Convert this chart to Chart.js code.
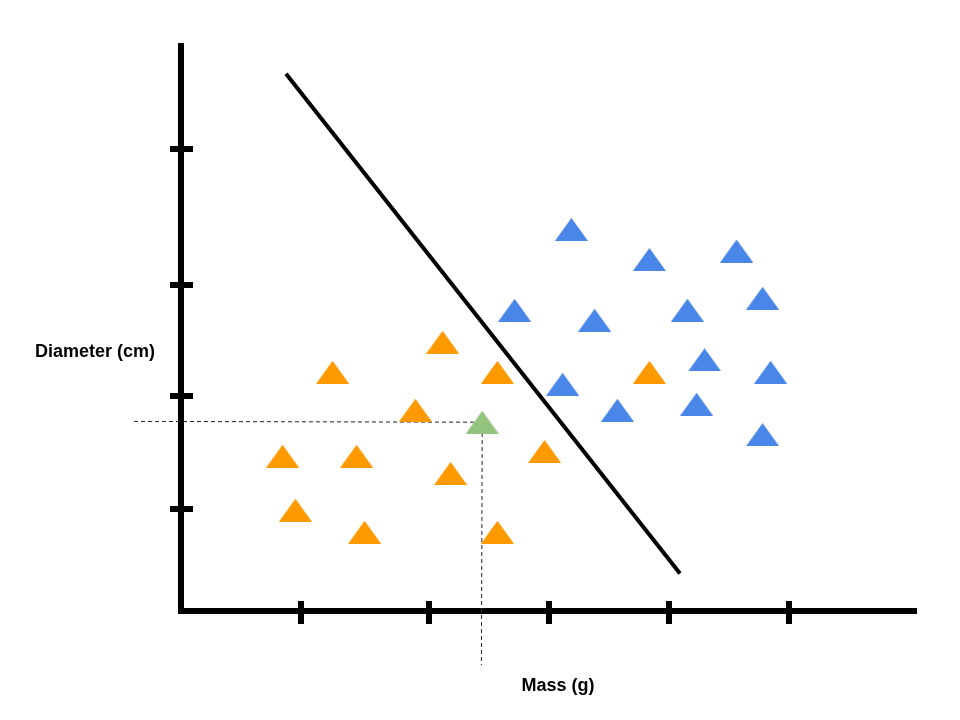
<!DOCTYPE html>
<html>
<head>
<meta charset="utf-8">
<title>Mass vs Diameter</title>
<script src="https://cdn.jsdelivr.net/npm/chart.js@4.4.1/dist/chart.umd.min.js"></script>
<style>
  html, body { margin: 0; padding: 0; background: #fff; }
  #chart { display: block; }
</style>
</head>
<body>
<canvas id="chart" width="960" height="720"></canvas>
<script>
// values: mass in g, diameter in cm
const orangeMass     = [65.4, 37.9, 79.1, 117.1, 58.6, 25.4, 43.9, 67.4, 90.9, 28.6, 45.9, 79.1];
const orangeDiameter = [6.72, 5.97, 5.97, 5.97, 5.02, 3.87, 3.87, 3.44, 3.99, 2.52, 1.97, 1.97];

const blueMass     = [97.6, 117.1, 138.9, 83.4, 103.4, 126.6, 145.4, 130.9, 147.4, 95.4, 109.1, 128.9, 145.4];
const blueDiameter = [9.54, 8.79, 9.0, 7.52, 7.27, 7.52, 7.82, 6.28, 5.97, 5.67, 5.02, 5.17, 4.41];

const greenMass     = [75.3];
const greenDiameter = [4.72];

// separating line
const boundaryMass     = [26.25, 124.75];
const boundaryDiameter = [13.43, 0.94];

// dashed guides from the new point to the axes
const guideHMass     = [-11.75, 74.0];
const guideHDiameter = [4.74, 4.72];
const guideVMass     = [75.3, 75.1];
const guideVDiameter = [4.45, -1.35];

// unlabelled tick marks
const massTicks     = [29.9, 61.9, 92.1, 122, 152];
const diameterTicks = [11.56, 8.16, 5.38, 2.56];

const xLabel = 'Mass (g)';
const yLabel = 'Diameter (cm)';

const toPoints = (xs, ys) => xs.map((x, i) => ({ x: x, y: ys[i] }));

// flat triangle marker, like the ones in the slide
const triangle = (color) => {
  const c = document.createElement('canvas');
  c.width = 33;
  c.height = 23;
  const g = c.getContext('2d');
  g.fillStyle = color;
  g.beginPath();
  g.moveTo(16.5, 0);
  g.lineTo(33, 23);
  g.lineTo(0, 23);
  g.closePath();
  g.fill();
  return c;
};

const marker = (color) => ({
  pointStyle: triangle(color),
  pointRadius: 16,
  pointHoverRadius: 16,
  order: 0,
});

const tickMarks = {
  id: 'tickMarks',
  afterDraw(chart) {
    const { ctx, chartArea, scales } = chart;
    ctx.save();
    ctx.fillStyle = '#000';
    massTicks.forEach(v => {
      const px = Math.round(scales.x.getPixelForValue(v));
      ctx.fillRect(px - 3, chartArea.bottom - 10, 6, 23);
    });
    diameterTicks.forEach(v => {
      const py = Math.round(scales.y.getPixelForValue(v));
      ctx.fillRect(chartArea.left - 11, py - 3, 23, 6);
    });

    ctx.font = 'bold 18px "Liberation Sans", Arial, sans-serif';
    ctx.textAlign = 'center';
    ctx.textBaseline = 'middle';
    ctx.fillText(yLabel, chartArea.left - 86, chartArea.top + 306.5);
    ctx.fillText(xLabel, chartArea.left + 377, chartArea.bottom + 75.5);
    ctx.restore();
  }
};

new Chart(document.getElementById('chart'), {
  type: 'scatter',
  data: {
    datasets: [
      { label: 'green', data: toPoints(greenMass, greenDiameter), ...marker('#93c47d') },
      { label: 'orange', data: toPoints(orangeMass, orangeDiameter), ...marker('#ff9900') },
      { label: 'blue', data: toPoints(blueMass, blueDiameter), ...marker('#4a86e8') },
      {
        label: 'boundary',
        data: toPoints(boundaryMass, boundaryDiameter),
        showLine: true,
        borderColor: '#000',
        borderWidth: 4,
        pointRadius: 0,
        order: 1,
      },
      {
        label: 'guideH',
        data: toPoints(guideHMass, guideHDiameter),
        showLine: true,
        borderColor: '#222',
        borderWidth: 1,
        borderDash: [4, 3],
        pointRadius: 0,
        clip: false,
        order: 2,
      },
      {
        label: 'guideV',
        data: toPoints(guideVMass, guideVDiameter),
        showLine: true,
        borderColor: '#222',
        borderWidth: 1,
        borderDash: [4, 3],
        pointRadius: 0,
        clip: false,
        order: 2,
      },
    ],
  },
  options: {
    responsive: false,
    devicePixelRatio: 1,
    animation: false,
    events: [],
    layout: { padding: { left: 181, top: 46, right: 44, bottom: 109 } },
    plugins: {
      legend: { display: false },
      tooltip: { enabled: false },
    },
    scales: {
      x: {
        type: 'linear',
        min: 0,
        max: 183.75,
        grid: { display: false, drawTicks: false },
        ticks: { display: false },
        border: { display: true, color: '#000', width: 6 },
      },
      y: {
        type: 'linear',
        min: 0,
        max: 14.125,
        grid: { display: false, drawTicks: false },
        ticks: { display: false },
        border: { display: true, color: '#000', width: 6 },
      },
    },
  },
  plugins: [tickMarks],
});
</script>
</body>
</html>
